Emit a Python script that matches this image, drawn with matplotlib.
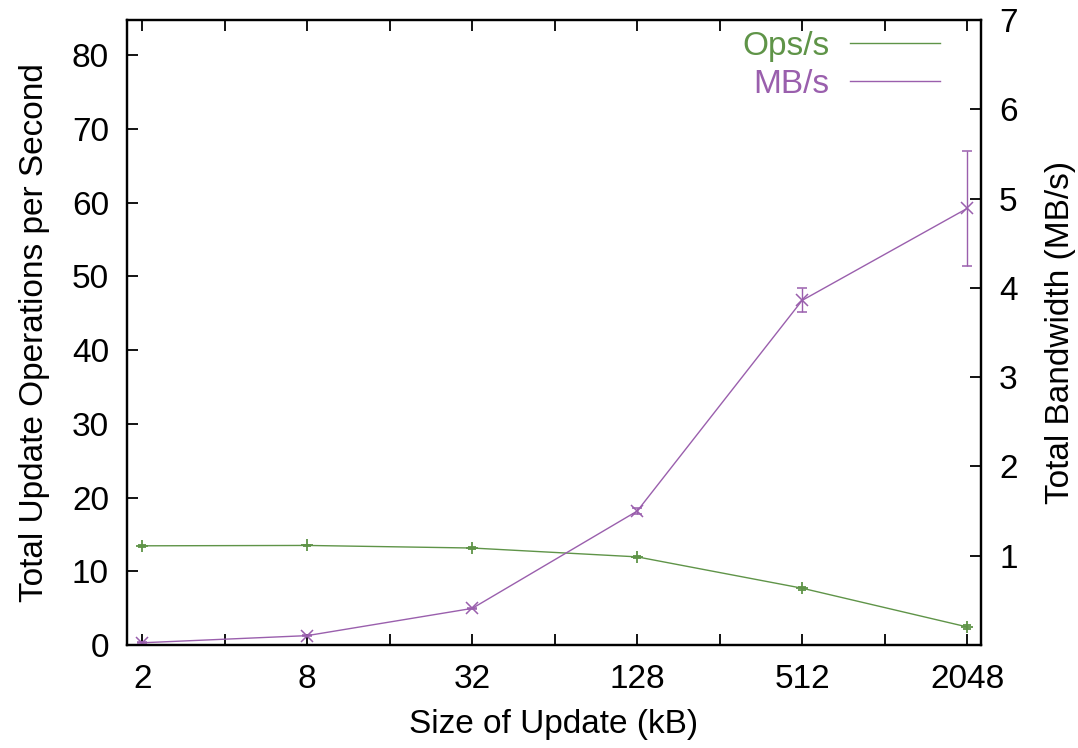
import matplotlib
matplotlib.use("Agg")
import matplotlib.pyplot as plt
from matplotlib.lines import Line2D
from matplotlib.ticker import FixedLocator, FixedFormatter, NullLocator
import numpy as np

plt.rcParams['font.family'] = ['Liberation Sans', 'DejaVu Sans']

# Data
sizes_kb = [2, 8, 32, 128, 512, 2048]
ops_per_s = [13.45, 13.5, 13.15, 11.95, 7.7, 2.45]
ops_err = [0.15, 0.12, 0.12, 0.15, 0.22, 0.3]
mb_per_s = [0.025, 0.105, 0.41, 1.50, 3.86, 4.89]
mb_err = [0.004, 0.004, 0.01, 0.03, 0.135, 0.64]

x_ticks = [2, 4, 8, 16, 32, 64, 128, 256, 512, 1024, 2048]
x_labels = ['2', '', '8', '', '32', '', '128', '', '512', '', '2048']
left_ticks = [0, 10, 20, 30, 40, 50, 60, 70, 80]
right_ticks = [1, 2, 3, 4, 5, 6, 7]

green = '#5f9448'
purple = '#9a5fad'
FS = 24

fig = plt.figure(figsize=(10.78, 7.48), dpi=100)
ax = fig.add_axes([127/1078, 1 - 645/748, (981 - 127)/1078, (645 - 20)/748])
ax2 = ax.twinx()

ax.errorbar(sizes_kb, ops_per_s, yerr=ops_err, color=green, lw=1.0,
            marker='+', ms=9, mew=1.3, capsize=3, elinewidth=1.0, capthick=1.0)
ax2.errorbar(sizes_kb, mb_per_s, yerr=mb_err, color=purple, lw=1.0,
             marker='x', ms=8, mew=1.1, capsize=3.5, elinewidth=1.0, capthick=1.0)

ax.set_xscale('log', base=2)
ax.set_xlim(1.76, 2300)
ax.set_ylim(0, 84.75)
ax2.set_ylim(0, 7)

ax.xaxis.set_major_locator(FixedLocator(x_ticks))
ax.xaxis.set_major_formatter(FixedFormatter(x_labels))
ax.xaxis.set_minor_locator(NullLocator())
ax.set_yticks(left_ticks)
ax2.set_yticks(right_ticks)

ax.tick_params(axis='x', which='both', direction='in', length=8, width=1.3,
               top=True, labelsize=FS, pad=14)
ax.tick_params(axis='y', direction='in', length=8, width=1.3, labelsize=FS, pad=13)
ax2.tick_params(axis='y', direction='in', length=8, width=1.3, labelsize=FS, pad=13)

for a in (ax, ax2):
    for s in a.spines.values():
        s.set_linewidth(1.6)

ax.set_xlabel('Size of Update (kB)', fontsize=FS, labelpad=10)
ax.set_ylabel('Total Update Operations per Second', fontsize=FS, labelpad=16)
ax2.set_ylabel('Total Bandwidth (MB/s)', fontsize=FS, labelpad=20)

handles = [Line2D([], [], color=green, lw=1.0), Line2D([], [], color=purple, lw=1.0)]
leg = ax.legend(handles, ['Ops/s', 'MB/s'], loc='upper right',
                bbox_to_anchor=(940/1078, 1 - 31/748), bbox_transform=fig.transFigure,
                frameon=False, markerfirst=False, fontsize=FS, labelcolor='linecolor',
                handlelength=2.7, handletextpad=0.62, labelspacing=0.2,
                borderpad=0, borderaxespad=0)

fig.savefig('out.png', dpi=100)
